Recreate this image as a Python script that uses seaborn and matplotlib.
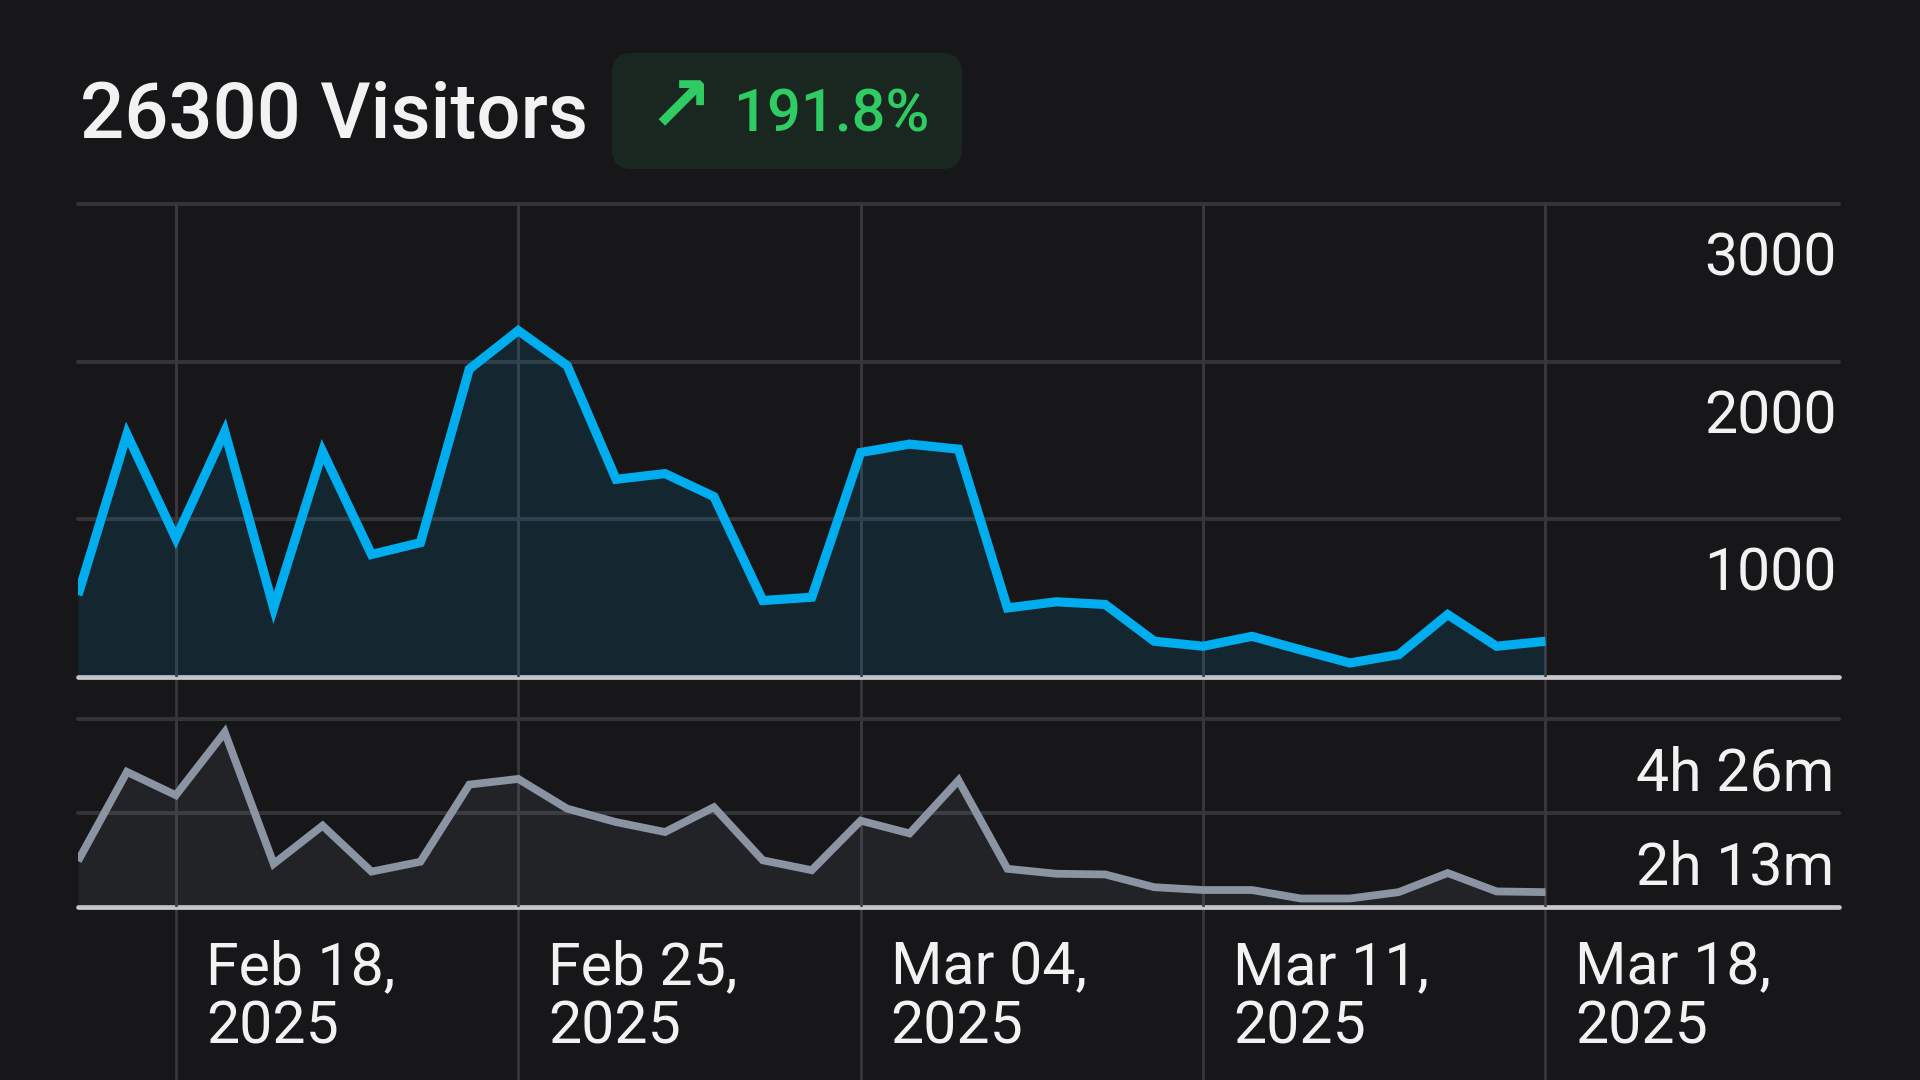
import numpy as np
import pandas as pd
import matplotlib
matplotlib.use("Agg")
import matplotlib.pyplot as plt
import matplotlib.transforms as mtransforms
from matplotlib.patches import FancyBboxPatch
import seaborn as sns

# ---------------- data ----------------
dates = pd.date_range("2025-02-16", "2025-03-18", freq="D")
visitors = [520, 1540, 880, 1557, 438, 1430, 777, 852, 1953, 2197,
            1975, 1254, 1290, 1144, 485, 506, 1424, 1477, 1445, 438,
            477, 460, 227, 195, 258, 172, 89, 142, 396, 195, 227]
session_minutes = [65, 191, 158, 247, 61, 115, 50, 64, 173, 181,
                   139, 120, 106, 141, 66, 52, 122, 104, 179, 54,
                   47, 46, 28, 24, 24, 12, 12, 21, 48, 22, 21]
visitor_ticks = [1000, 2000, 3000]
visitor_tick_labels = ["1000", "2000", "3000"]
duration_ticks = [133, 266]
duration_tick_labels = ["2h 13m", "4h 26m"]
date_ticks = pd.to_datetime(["2025-02-18", "2025-02-25", "2025-03-04",
                             "2025-03-11", "2025-03-18"])
date_tick_labels = ["Feb 18,\n2025", "Feb 25,\n2025", "Mar 04,\n2025",
                    "Mar 11,\n2025", "Mar 18,\n2025"]
x_start = pd.Timestamp("2025-02-16")
x_end = pd.Timestamp("2025-03-24")
title_text = "26300 Visitors"
change_text = "191.8%"

# ---------------- style ----------------
BG = "#17171a"
GRID = "#333438"
VGRID = "#38383d"
BASE = "#c8c8cc"
BLUE = "#00aeef"
GRAY = "#8a94a2"
TEXT = "#f2f2f2"
GREEN = "#2ecc62"
BADGE = "#1a2720"

sns.set_theme(style="dark", rc={"figure.facecolor": BG, "axes.facecolor": BG})
plt.rcParams["font.family"] = ["Roboto", "DejaVu Sans"]

fig = plt.figure(figsize=(19.2, 10.8), dpi=100)
fig.patch.set_facecolor(BG)

L, W = 78 / 1920, (1839 - 78) / 1920


def fy(px):
    return 1 - px / 1080


# background axes for vertical grid lines (spanning panels + label area)
axbg = fig.add_axes([L, 0.0, W, fy(204)])
axbg.set_xlim(x_start, x_end)
axbg.set_ylim(0, 1)
axbg.axis("off")
for d in date_ticks:
    axbg.axvline(d, color=VGRID, lw=1.9, zorder=0)

ax1 = fig.add_axes([L, fy(677), W, fy(204) - fy(677)])
ax2 = fig.add_axes([L, fy(907), W, fy(718.8) - fy(907)])


def style_panel(ax, ymax, ticks):
    ax.set_facecolor("none")
    ax.set_xlim(x_start, x_end)
    ax.set_ylim(0, ymax)
    for s in ax.spines.values():
        s.set_visible(False)
    ax.grid(False)
    for t in ticks:
        ax.axhline(t, color=GRID, lw=2.9, zorder=1, clip_on=False)
    ax.axhline(0, color=BASE, lw=3.4, zorder=1.2, clip_on=False)
    for d in date_ticks:
        ax.axvline(d, color=VGRID, lw=1.9, zorder=1.5)


style_panel(ax1, 3000, visitor_ticks)
style_panel(ax2, 266, duration_ticks)

# upper panel: visitors
ax1.fill_between(dates, visitors, 0, color=BLUE, alpha=0.11, lw=0, zorder=2)
sns.lineplot(x=dates, y=visitors, ax=ax1, color=BLUE, linewidth=6.6,
             solid_joinstyle="miter", solid_capstyle="butt", zorder=3)

# lower panel: session duration
ax2.fill_between(dates, session_minutes, 0, color=GRAY, alpha=0.10, lw=0, zorder=2)
sns.lineplot(x=dates, y=session_minutes, ax=ax2, color=GRAY, linewidth=5.6,
             solid_joinstyle="miter", solid_capstyle="butt", zorder=3)

for ax in (ax1, ax2):
    ax.set_xlim(x_start, x_end)
    ax.set_xlabel("")
    ax.set_ylabel("")
    ax.set_xticks([])
    ax.set_yticks([])

# y labels (right aligned, just below each gridline)
for ax, ticks, labels, dx in ((ax1, visitor_ticks, visitor_tick_labels, -0.02),
                              (ax2, duration_ticks, duration_tick_labels, -0.05)):
    tr = mtransforms.blended_transform_factory(ax.transAxes, ax.transData)
    tr = tr + mtransforms.ScaledTranslation(dx, -0.715, fig.dpi_scale_trans)
    for t, lab in zip(ticks, labels):
        ax.text(1.0, t, lab, transform=tr, ha="right", va="baseline",
                fontsize=42.5, color=TEXT, zorder=5)

# x labels (left aligned, right of each vertical grid line)
trx = mtransforms.blended_transform_factory(axbg.transData, fig.dpi_scale_trans)
trx = trx + mtransforms.ScaledTranslation(0.30, 0, fig.dpi_scale_trans)
for d, lab in zip(date_ticks, date_tick_labels):
    axbg.text(d, (1080 - 1044) / 100, lab, transform=trx, ha="left", va="baseline",
              fontsize=42.5, color=TEXT, linespacing=1.07, clip_on=False)

# header
fig.text(0.80, (1080 - 138) / 100, title_text, transform=fig.dpi_scale_trans,
         fontsize=56, color=TEXT, fontweight="medium", ha="left", va="baseline")
badge = FancyBboxPatch((6.12, (1080 - 169) / 100), 3.50, 1.16,
                       boxstyle="round,pad=0,rounding_size=0.2",
                       transform=fig.dpi_scale_trans, facecolor=BADGE,
                       edgecolor="none")
fig.add_artist(badge)
fig.text(6.47, (1080 - 131) / 100, "\u2197", transform=fig.dpi_scale_trans,
         fontsize=56, color=GREEN, ha="left", va="baseline",
         fontweight="bold", family=["DejaVu Sans"])
fig.text(7.33, (1080 - 132) / 100, change_text, transform=fig.dpi_scale_trans,
         fontsize=43, color=GREEN, fontweight="medium", ha="left", va="baseline")

fig.savefig("out.png", dpi=100, facecolor=BG)
